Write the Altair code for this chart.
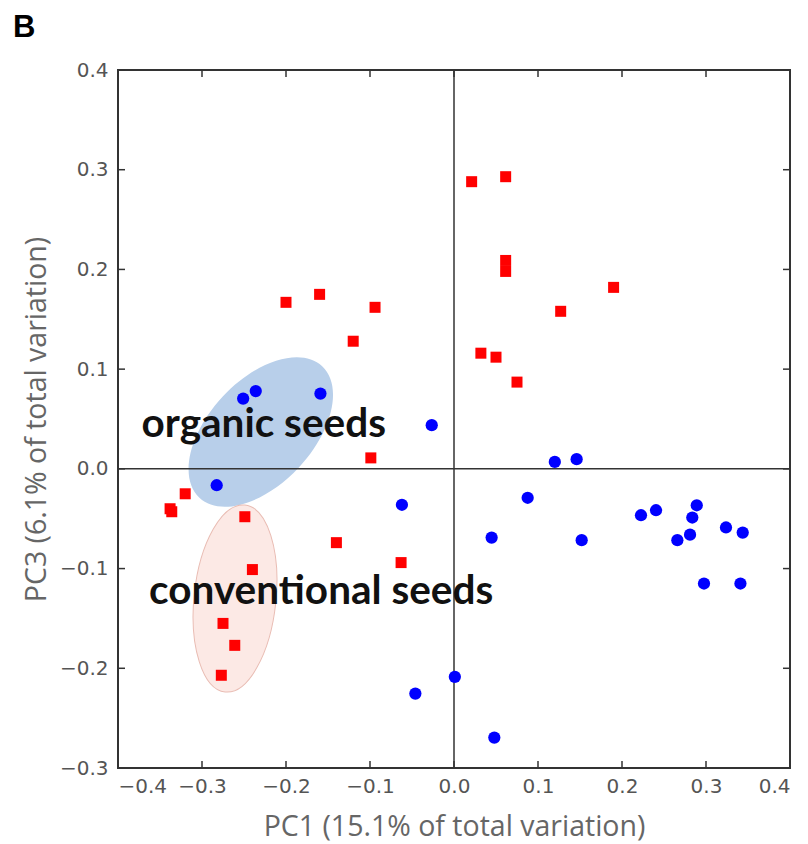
import altair as alt
import pandas as pd

# ---- data ----
organic_x = [-0.251, -0.236, -0.159, -0.0265, -0.2825, -0.062, -0.046, 0.001, 0.048,
             0.120, 0.146, 0.0877, 0.0448, 0.152, 0.2226, 0.2405, 0.289, 0.2837,
             0.2659, 0.281, 0.3238, 0.3437, 0.2976, 0.341]
organic_y = [0.0705, 0.078, 0.0755, 0.0438, -0.0164, -0.036, -0.2254, -0.2086, -0.2695,
             0.007, 0.0097, -0.029, -0.0689, -0.0715, -0.0465, -0.0415, -0.0365, -0.0488,
             -0.0715, -0.066, -0.0588, -0.0639, -0.115, -0.115]

conv_x = [0.021, 0.0615, 0.0615, 0.0615, 0.19, 0.127, 0.032, 0.05, 0.075,
          -0.20, -0.16, -0.094, -0.12, -0.099, -0.32, -0.338, -0.336, -0.249,
          -0.240, -0.140, -0.063, -0.275, -0.261, -0.277]
conv_y = [0.288, 0.293, 0.209, 0.198, 0.182, 0.158, 0.116, 0.112, 0.087,
          0.167, 0.175, 0.162, 0.128, 0.011, -0.025, -0.040, -0.043, -0.048,
          -0.101, -0.074, -0.094, -0.155, -0.177, -0.207]

# group ellipses (centre, in data units)
ell_group = ["organic", "conventional"]
ell_x = [-0.230, -0.2607]
ell_y = [0.037, -0.130]
ell_angle = [313, 276]

# annotation labels
label_text = ["organic seeds", "conventional seeds"]
label_x = [-0.372, -0.363]
label_y = [0.032, -0.136]

x_ticks = [-0.4, -0.3, -0.2, -0.1, 0.0, 0.1, 0.2, 0.3, 0.4]
y_ticks = [-0.3, -0.2, -0.1, 0.0, 0.1, 0.2, 0.3, 0.4]

W, H = 672, 698
TICK = 7

organic = pd.DataFrame({"x": organic_x, "y": organic_y})
conv = pd.DataFrame({"x": conv_x, "y": conv_y})
ells = pd.DataFrame({"group": ell_group, "x": ell_x, "y": ell_y, "angle": ell_angle})
labels = pd.DataFrame({"text": label_text, "x": label_x, "y": label_y})
xt = pd.DataFrame({"v": x_ticks})
yt = pd.DataFrame({"v": y_ticks})

xs = alt.Scale(domain=[-0.4, 0.4], nice=False, zero=False)
ys = alt.Scale(domain=[-0.3, 0.4], nice=False, zero=False)

X = alt.X("x:Q", scale=xs,
          axis=alt.Axis(values=x_ticks, format=".1f", title="PC1 (15.1% of total variation)"))
Y = alt.Y("y:Q", scale=ys,
          axis=alt.Axis(values=y_ticks, format=".1f", title="PC3 (6.1% of total variation)"))

blue_path = "M -1 0 A 1 0.578 0 1 1 1 0 A 1 0.578 0 1 1 -1 0 Z"
red_path = "M -1 0 A 1 0.436 0 1 1 1 0 A 1 0.436 0 1 1 -1 0 Z"

ell_blue = alt.Chart(ells).transform_filter(alt.datum.group == "organic").mark_point(
    shape=blue_path, filled=True, fill="#b8cfea", opacity=1, size=180 * 180, strokeWidth=0
).encode(x=X, y=Y, angle=alt.Angle("angle:Q", scale=None))

ell_red = alt.Chart(ells).transform_filter(alt.datum.group == "conventional").mark_point(
    shape=red_path, filled=True, fill="#fce9e5", stroke="#e9bcb3", strokeWidth=1, opacity=1,
    size=188 * 188
).encode(x=alt.X("x:Q", scale=xs), y=alt.Y("y:Q", scale=ys),
         angle=alt.Angle("angle:Q", scale=None))

zero_v = alt.Chart(pd.DataFrame({"x": [0.0]})).mark_rule(color="#333333", strokeWidth=1.5).encode(
    x=alt.X("x:Q", scale=xs), y=alt.value(0), y2=alt.value(H))
zero_h = alt.Chart(pd.DataFrame({"y": [0.0]})).mark_rule(color="#333333", strokeWidth=1.5).encode(
    y=alt.Y("y:Q", scale=ys), x=alt.value(0), x2=alt.value(W))

tick_style = dict(color="#333333", strokeWidth=1.5)
t_bottom = alt.Chart(xt).mark_rule(**tick_style).encode(
    x=alt.X("v:Q", scale=xs), y=alt.value(H), y2=alt.value(H - TICK))
t_top = alt.Chart(xt).mark_rule(**tick_style).encode(
    x=alt.X("v:Q", scale=xs), y=alt.value(0), y2=alt.value(TICK))
t_left = alt.Chart(yt).mark_rule(**tick_style).encode(
    y=alt.Y("v:Q", scale=ys), x=alt.value(0), x2=alt.value(TICK))
t_right = alt.Chart(yt).mark_rule(**tick_style).encode(
    y=alt.Y("v:Q", scale=ys), x=alt.value(W - TICK), x2=alt.value(W))

pts_conv = alt.Chart(conv).mark_point(shape="square", filled=True, color="#ff0000",
                                      size=121, opacity=1).encode(
    x=alt.X("x:Q", scale=xs), y=alt.Y("y:Q", scale=ys))
pts_org = alt.Chart(organic).mark_point(shape="circle", filled=True, color="#0000ff",
                                        size=150, opacity=1).encode(
    x=alt.X("x:Q", scale=xs), y=alt.Y("y:Q", scale=ys))

txt = alt.Chart(labels).mark_text(font="Lato", fontWeight="bold", fontSize=40.5,
                                  align="left", baseline="alphabetic", color="#111111").encode(
    x=alt.X("x:Q", scale=xs), y=alt.Y("y:Q", scale=ys), text="text:N")

panel = alt.Chart(pd.DataFrame({"t": ["B"]})).mark_text(
    font="Liberation Sans", fontWeight="bold", fontSize=31, align="left",
    baseline="alphabetic", color="#000000").encode(
    x=alt.value(-105), y=alt.value(-33), text="t:N")

chart = alt.layer(
    ell_blue, ell_red, zero_v, zero_h, t_bottom, t_top, t_left, t_right,
    pts_conv, pts_org, txt, panel
).properties(
    width=W, height=H,
    autosize=alt.AutoSizeParams(type="none"),
    padding={"left": 118, "top": 70, "right": 18, "bottom": 76},
).configure_view(
    stroke="#333333", strokeWidth=2
).configure_axis(
    ticks=False, domain=False, grid=False,
    labelFont="DejaVu Sans", labelFontSize=20, labelColor="#555555",
    titleFont="Open Sans", titleFontSize=28.5, titleFontWeight="normal", titleColor="#666666",
).configure_axisX(
    labelPadding=8, titlePadding=16
).configure_axisY(
    labelPadding=10, titlePadding=8
)

chart.save("out.html", embed_options={"renderer": "svg", "actions": False})
